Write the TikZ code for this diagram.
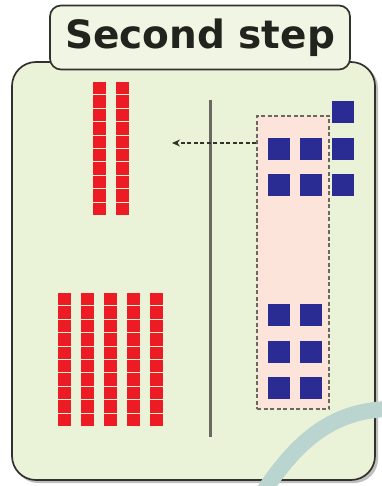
\documentclass[tikz,border=0pt]{standalone}
\usepackage{fontspec}
\newfontfamily\titlefont{DejaVu Sans}
\usetikzlibrary{arrows.meta}

\definecolor{paper}{RGB}{234,242,215}
\definecolor{edge}{RGB}{50,50,45}
\definecolor{ink}{RGB}{35,35,30}
\definecolor{unitred}{RGB}{237,28,36}
\definecolor{unitblue}{RGB}{42,44,148}
\definecolor{blush}{RGB}{252,228,218}
\definecolor{rule}{RGB}{105,105,95}
\definecolor{stamp}{RGB}{186,212,208}

\begin{document}
\begin{tikzpicture}[x=1pt,y=-1pt,
      panel/.style = {draw=edge, line width=1.7pt, fill=paper,
        rounded corners=24pt},
      banner/.style = {shape=rectangle, rounded corners=11pt,
        draw=edge, line width=1.7pt, fill=paper!70!white,
        minimum width=300pt, minimum height=64pt, inner sep=0pt,
        font=\titlefont\bfseries\fontsize{39}{39}\selectfont, text=ink},
      cell/.style = {fill=unitred},
      tile/.style = {fill=unitblue},
      holder/.style = {shape=rectangle, draw=rule, dash pattern=on 4pt off 2.5pt,
        line width=1.3pt, fill=blush, inner sep=0pt,
        minimum width=72pt, minimum height=293pt}]
  \useasboundingbox (0,0) rectangle (381,486);
  % board
  \fill[black!25, rounded corners=24pt] (14,64) rectangle (378,483);
  \draw[panel] (12,62) rectangle (375,480);
  \node[banner] (title) at (200,37.5) {Second step};
  % tens moved to the left
  \foreach \x in {93,116}
    \foreach \k in {0,...,9}
      \fill[cell] (\x,82+13.4*\k) rectangle +(13,12.4);
  % tens already on the left
  \foreach \x in {58,81,104,127,150}
    \foreach \k in {0,...,9}
      \fill[cell] (\x,293+13.4*\k) rectangle +(13,12.4);
  \draw[rule, line width=3pt] (210,100) -- (210,437);
  % ones
  \node[holder] (group) at (293,262.5) {};
  \coordinate (target) at (172,143);
  \draw[edge, line width=1.2pt, dash pattern=on 4pt off 2.5pt,
    -{Stealth[length=8pt,width=7pt]}] (group.west |- target) -- (target);
  \fill[tile] (332,101) rectangle +(22,22);
  \foreach \x in {268,300,332}
    \foreach \y in {138,174}
      \fill[tile] (\x,\y) rectangle +(22,22);
  \foreach \x in {268,300}
    \foreach \y in {304,341,377}
      \fill[tile] (\x,\y) rectangle +(22,22);
  % watermark arc
  \draw[stamp, line width=16pt] (262,494) .. controls (295,444) and (330,410) .. (390,409);
\end{tikzpicture}
\end{document}
